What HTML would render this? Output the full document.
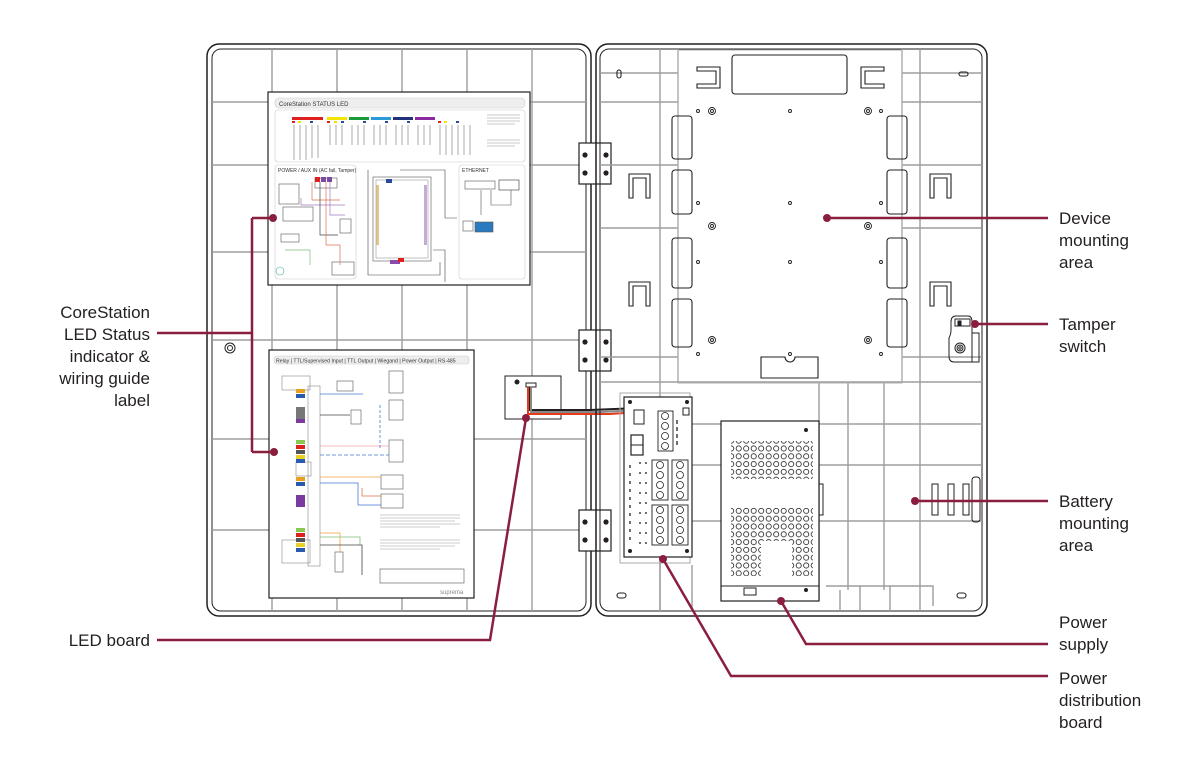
<!DOCTYPE html>
<html><head><meta charset="utf-8"><style>
html,body{margin:0;padding:0;background:#fff;}
svg{display:block}
text{font-family:"Liberation Sans",sans-serif;}
.lbl{font-size:17px;fill:#231f20;}
</style></head><body>
<svg width="1201" height="770" viewBox="0 0 1201 770" xmlns="http://www.w3.org/2000/svg">
<!-- LEFT DOOR -->
<g fill="none">
<rect x="207" y="44" width="384" height="572" rx="12" stroke="#231f20" stroke-width="1.5"/>
<rect x="212" y="49" width="374" height="562" rx="9" stroke="#231f20" stroke-width="1"/>
<g stroke="#9d9d9d" stroke-width="1.4">
<line x1="272" y1="49" x2="272" y2="611"/><line x1="337" y1="49" x2="337" y2="611"/>
<line x1="402" y1="49" x2="402" y2="611"/><line x1="467" y1="49" x2="467" y2="611"/>
<line x1="532" y1="49" x2="532" y2="611"/>
<line x1="212" y1="102" x2="586" y2="102"/><line x1="212" y1="165" x2="586" y2="165"/>
<line x1="212" y1="252" x2="586" y2="252"/><line x1="212" y1="340" x2="586" y2="340"/>
<line x1="212" y1="439" x2="586" y2="439"/><line x1="212" y1="530" x2="586" y2="530"/>
</g>
<circle cx="230" cy="348" r="5" stroke="#231f20"/><circle cx="230" cy="348" r="2.5" stroke="#231f20"/>
</g>
<!-- Label 1 -->
<rect x="268" y="92" width="262" height="193" fill="#fff" stroke="#231f20" stroke-width="1.2"/>
<rect x="275" y="98" width="250" height="10" rx="4" fill="#eee" stroke="#ccc" stroke-width=".6"/>
<text x="279" y="106" font-size="6" fill="#333">CoreStation STATUS LED</text>
<rect x="275" y="110" width="250" height="52" rx="3" fill="#fff" stroke="#ccc" stroke-width=".6"/>
<g>
<rect x="292" y="117" width="31" height="3" fill="#e02020"/><rect x="327" y="117" width="20" height="3" fill="#f2e600"/>
<rect x="349" y="117" width="20" height="3" fill="#1a9a3a"/><rect x="371" y="117" width="20" height="3" fill="#2a9ad8"/>
<rect x="393" y="117" width="20" height="3" fill="#23307a"/><rect x="415" y="117" width="20" height="3" fill="#8a2aa0"/>
<g fill="#e02020"><rect x="292" y="121" width="3" height="2"/><rect x="327" y="121" width="3" height="2"/><rect x="438" y="121" width="3" height="2"/></g>
<g fill="#f2e600"><rect x="298" y="121" width="3" height="2"/><rect x="334" y="121" width="3" height="2"/><rect x="444" y="121" width="3" height="2"/></g>
<g fill="#2a4aa0"><rect x="310" y="121" width="3" height="2"/><rect x="341" y="121" width="3" height="2"/><rect x="363" y="121" width="3" height="2"/><rect x="385" y="121" width="3" height="2"/><rect x="407" y="121" width="3" height="2"/><rect x="456" y="121" width="3" height="2"/></g>
<g stroke="#555" stroke-width=".5"><line x1="294" y1="125" x2="294" y2="160"/><line x1="300" y1="125" x2="300" y2="160"/><line x1="306" y1="125" x2="306" y2="160"/><line x1="312" y1="125" x2="312" y2="158"/><line x1="318" y1="125" x2="318" y2="158"/><line x1="330" y1="125" x2="330" y2="145"/><line x1="336" y1="125" x2="336" y2="145"/><line x1="342" y1="125" x2="342" y2="145"/><line x1="352" y1="125" x2="352" y2="145"/><line x1="358" y1="125" x2="358" y2="145"/><line x1="364" y1="125" x2="364" y2="145"/><line x1="374" y1="125" x2="374" y2="145"/><line x1="380" y1="125" x2="380" y2="145"/><line x1="386" y1="125" x2="386" y2="145"/><line x1="396" y1="125" x2="396" y2="145"/><line x1="402" y1="125" x2="402" y2="145"/><line x1="408" y1="125" x2="408" y2="145"/><line x1="418" y1="125" x2="418" y2="145"/><line x1="424" y1="125" x2="424" y2="145"/><line x1="430" y1="125" x2="430" y2="145"/><line x1="440" y1="125" x2="440" y2="155"/><line x1="446" y1="125" x2="446" y2="155"/><line x1="452" y1="125" x2="452" y2="155"/><line x1="458" y1="125" x2="458" y2="155"/><line x1="464" y1="125" x2="464" y2="155"/><line x1="470" y1="125" x2="470" y2="155"/></g>
<g stroke="#777" stroke-width=".4"><line x1="487" y1="115" x2="520" y2="115"/><line x1="487" y1="118" x2="520" y2="118"/><line x1="487" y1="121" x2="520" y2="121"/><line x1="487" y1="124" x2="515" y2="124"/><line x1="487" y1="140" x2="520" y2="140"/><line x1="487" y1="143" x2="520" y2="143"/><line x1="487" y1="146" x2="515" y2="146"/></g>
</g>
<rect x="275" y="165" width="81" height="114" rx="3" fill="#fff" stroke="#ccc" stroke-width=".6"/>
<text x="278" y="172" font-size="5" fill="#333">POWER / AUX IN (AC fail, Tamper)</text>
<rect x="459" y="165" width="66" height="114" rx="3" fill="#fff" stroke="#ccc" stroke-width=".6"/>
<text x="462" y="172" font-size="5" fill="#333">ETHERNET</text>
<g fill="none" stroke="#555" stroke-width=".6">
<rect x="279" y="184" width="20" height="20"/><rect x="283" y="207" width="30" height="14"/>
<rect x="315" y="178" width="22" height="10"/><rect x="340" y="219" width="11" height="14"/>
<rect x="332" y="262" width="22" height="13"/><rect x="281" y="234" width="18" height="8"/>
<rect x="373" y="177" width="58" height="84"/><rect x="376" y="180" width="52" height="78" stroke="#999"/>
<path d="M368 170 V275 H440 V262" stroke="#444"/><path d="M400 170 H445 V218 H457" stroke="#444"/><path d="M433 250 H445 V282" stroke="#444"/>
<rect x="465" y="181" width="30" height="8"/><rect x="499" y="180" width="20" height="10" stroke="#333"/>
<rect x="463" y="221" width="10" height="10"/><rect x="475" y="222" width="18" height="10" fill="#2a7ac0"/>
<path d="M481 190 V215 M491 190 V205 H511 V190"/>
<circle cx="280" cy="271" r="4" stroke="#4a9"/>
</g>
<g stroke-width=".7" fill="none">
<path d="M301 198 V205 H345" stroke="#a07ac0"/><path d="M312 182 V200 H340" stroke="#e07050"/><path d="M320 182 V235 H338" stroke="#444"/><path d="M326 182 V245 H340 V265" stroke="#e07050"/><path d="M330 182 V215 H345" stroke="#a07ac0"/>
<path d="M285 250 H310 V265" stroke="#7ac07a"/>
</g>
<g><rect x="315" y="177" width="5" height="5" fill="#e02020"/><rect x="321" y="177" width="5" height="5" fill="#7a4aa0"/><rect x="327" y="177" width="5" height="5" fill="#7a4aa0"/></g>
<g><rect x="376" y="185" width="3" height="60" fill="#c8a040" opacity=".6"/><rect x="424" y="185" width="3" height="60" fill="#8a5ab0" opacity=".5"/><rect x="390" y="260" width="10" height="4" fill="#8a4ab0"/><rect x="386" y="179" width="6" height="4" fill="#2a4aa0"/><rect x="398" y="258" width="6" height="4" fill="#e02020"/></g>
<!-- Label 2 -->
<rect x="269" y="350" width="205" height="248" fill="#fff" stroke="#231f20" stroke-width="1.2"/>
<rect x="274" y="356" width="195" height="8" rx="3" fill="#eee" stroke="#ccc" stroke-width=".6"/>
<text x="276" y="362.5" font-size="5.2" fill="#333">Relay | TTL/Supervised Input | TTL Output | Wiegand | Power Output | RS-485</text>
<g fill="none" stroke="#888" stroke-width=".6">
<rect x="282" y="376" width="28" height="14"/><rect x="296" y="462" width="15" height="14"/><rect x="282" y="540" width="28" height="23"/>
<rect x="308" y="386" width="12" height="180"/>
<rect x="337" y="381" width="16" height="10" stroke="#555"/><rect x="389" y="371" width="14" height="22" stroke="#555"/><rect x="389" y="400" width="14" height="20" stroke="#555"/><rect x="389" y="440" width="14" height="22" stroke="#555"/>
<rect x="351" y="410" width="10" height="14" stroke="#555"/><rect x="381" y="475" width="22" height="14" stroke="#555"/><rect x="381" y="494" width="22" height="14" stroke="#555"/>
<rect x="380" y="569" width="84" height="14" stroke="#555"/><rect x="335" y="552" width="8" height="20" stroke="#555"/>
</g>
<g stroke-width=".8" fill="none">
<path d="M320 477 H381" stroke="#f0a040"/><path d="M320 483 H358 V505 H381" stroke="#4a7ad0"/><path d="M362 488 V496 H381" stroke="#e07050"/>
<path d="M320 446 H389" stroke="#f0a0a0"/><path d="M320 455 H389" stroke="#4a7ad0" stroke-dasharray="4 2"/><path d="M380 405 V450" stroke="#4a7ad0" stroke-dasharray="3 2"/>
<path d="M320 394 H363" stroke="#4a7ad0"/><path d="M320 415 H350" stroke="#444"/><path d="M320 537 H360 V545" stroke="#7ac07a"/><path d="M320 533 H340 V552" stroke="#f0a040"/><path d="M320 545 H362 V575" stroke="#444"/>
</g>
<g><rect x="296" y="389" width="9" height="4" fill="#e8a020"/><rect x="296" y="394" width="9" height="4" fill="#2a5ab0"/>
<rect x="296" y="407" width="9" height="12" fill="#777"/><rect x="296" y="419" width="9" height="4" fill="#7a3aa0"/>
<rect x="296" y="440" width="9" height="4" fill="#8cc850"/><rect x="296" y="445" width="9" height="4" fill="#e02020"/><rect x="296" y="450" width="9" height="4" fill="#555"/><rect x="296" y="455" width="9" height="4" fill="#e8d020"/><rect x="296" y="459" width="9" height="4" fill="#2a5ab0"/>
<rect x="296" y="477" width="9" height="4" fill="#e8a020"/><rect x="296" y="482" width="9" height="4" fill="#2a5ab0"/>
<rect x="296" y="495" width="9" height="12" fill="#7a3aa0"/>
<rect x="296" y="528" width="9" height="4" fill="#8cc850"/><rect x="296" y="533" width="9" height="4" fill="#e02020"/><rect x="296" y="538" width="9" height="4" fill="#555"/><rect x="296" y="543" width="9" height="4" fill="#e8d020"/><rect x="296" y="548" width="9" height="4" fill="#2a5ab0"/></g>
<g stroke="#999" stroke-width=".5"><line x1="380" y1="515" x2="460" y2="515"/><line x1="380" y1="518" x2="460" y2="518"/><line x1="380" y1="521" x2="455" y2="521"/><line x1="380" y1="524" x2="460" y2="524"/><line x1="380" y1="527" x2="440" y2="527"/><line x1="380" y1="540" x2="460" y2="540"/><line x1="380" y1="543" x2="460" y2="543"/><line x1="380" y1="546" x2="455" y2="546"/><line x1="380" y1="549" x2="440" y2="549"/></g>
<text x="440" y="594" font-size="6" fill="#888">suprema</text>
<!-- LED board -->
<rect x="505" y="376" width="56" height="43" fill="#fff" stroke="#231f20" stroke-width="1"/>
<circle cx="517" cy="382" r="2.5" fill="#231f20"/>
<rect x="526" y="383" width="10" height="4" fill="none" stroke="#231f20"/>
<!-- wires -->
<path d="M530 387 V410 H590 L640 408 V418" stroke="#231f20" stroke-width="2" fill="none"/>
<path d="M531 387 V412 H600 L642 410 V420" stroke="#888" stroke-width="2" fill="none"/>
<path d="M528 387 V414 H610 L640 412 V425" stroke="#e83a1a" stroke-width="2" fill="none"/>
<!-- Hinges -->
<g fill="#fff" stroke="#231f20" stroke-width="1.2">
<rect x="579" y="143" width="32" height="41"/><rect x="579" y="330" width="32" height="41"/><rect x="579" y="510" width="32" height="41"/>
</g>
<g fill="#231f20"><circle cx="585" cy="155" r="2.6"/><circle cx="585" cy="173" r="2.6"/><circle cx="606" cy="155" r="2.6"/><circle cx="606" cy="173" r="2.6"/>
<circle cx="585" cy="342" r="2.6"/><circle cx="585" cy="360" r="2.6"/><circle cx="606" cy="342" r="2.6"/><circle cx="606" cy="360" r="2.6"/>
<circle cx="585" cy="522" r="2.6"/><circle cx="585" cy="540" r="2.6"/><circle cx="606" cy="522" r="2.6"/><circle cx="606" cy="540" r="2.6"/></g>
<!-- RIGHT BOX -->
<g fill="none">
<rect x="596" y="44" width="391" height="572" rx="12" stroke="#231f20" stroke-width="1.5"/>
<rect x="600" y="49" width="382" height="562" rx="9" stroke="#231f20" stroke-width="1"/>
<g stroke="#9d9d9d" stroke-width="1.4">
<line x1="660" y1="49" x2="660" y2="611"/><line x1="678" y1="49" x2="678" y2="383"/><line x1="902" y1="49" x2="902" y2="383"/><line x1="920" y1="49" x2="920" y2="611"/>
<line x1="600" y1="73" x2="678" y2="73"/><line x1="902" y1="73" x2="982" y2="73"/>
<line x1="600" y1="102" x2="678" y2="102"/><line x1="902" y1="102" x2="982" y2="102"/>
<line x1="600" y1="165" x2="678" y2="165"/><line x1="902" y1="165" x2="982" y2="165"/>
<line x1="600" y1="228" x2="678" y2="228"/><line x1="902" y1="228" x2="982" y2="228"/>
<line x1="600" y1="357" x2="678" y2="357"/><line x1="902" y1="357" x2="982" y2="357"/>
<line x1="600" y1="382" x2="982" y2="382"/><line x1="692" y1="424" x2="982" y2="424"/><line x1="692" y1="465" x2="982" y2="465"/><line x1="692" y1="521" x2="982" y2="521"/>
<line x1="848" y1="383" x2="848" y2="590"/><line x1="884" y1="383" x2="884" y2="590"/><line x1="819" y1="383" x2="819" y2="600"/>
<line x1="660" y1="557" x2="660" y2="611"/><line x1="692" y1="565" x2="692" y2="611"/>
<path d="M826 586 H933 V606 M860 586 V611 M890 586 V611 M840 590 V611"/>
</g>
<rect x="678" y="50" width="224" height="333" stroke="#b0b0b0" stroke-width="1"/>
<g stroke="#231f20" stroke-width="1.1">
<rect x="732" y="55" width="115" height="39" rx="3"/>
<path d="M697 67 H720 V88 H697 V84 H716 V71 H697 Z"/><path d="M884 67 H861 V88 H884 V84 H865 V71 H884 Z"/>
<rect x="672" y="116" width="20" height="43" rx="3"/><rect x="672" y="170" width="20" height="44" rx="3"/><rect x="672" y="238" width="20" height="50" rx="3"/><rect x="672" y="299" width="20" height="48" rx="3"/>
<rect x="887" y="116" width="20" height="43" rx="3"/><rect x="887" y="170" width="20" height="44" rx="3"/><rect x="887" y="238" width="20" height="50" rx="3"/><rect x="887" y="299" width="20" height="48" rx="3"/>
<path d="M761 357 H785 A4 4 0 0 0 795 357 H818 V378 H761 Z"/>
<path d="M629 174 H650 V198 H646 V178 H633 V198 H629 Z"/><path d="M629 282 H650 V306 H646 V286 H633 V306 H629 Z"/>
<path d="M930 174 H951 V198 H947 V178 H934 V198 H930 Z"/><path d="M930 282 H951 V306 H947 V286 H934 V306 H930 Z"/>
<rect x="617" y="70" width="4" height="8" rx="2"/><rect x="959" y="72" width="9" height="4" rx="2"/>
<rect x="617" y="593" width="9" height="5" rx="2.5"/><rect x="957" y="593" width="9" height="5" rx="2.5"/>
</g>
<g stroke="#231f20" stroke-width=".9">
<circle cx="712" cy="111" r="3.5"/><circle cx="712" cy="111" r="1.5"/><circle cx="868" cy="111" r="3.5"/><circle cx="868" cy="111" r="1.5"/>
<circle cx="712" cy="226" r="3.5"/><circle cx="712" cy="226" r="1.5"/><circle cx="868" cy="226" r="3.5"/><circle cx="868" cy="226" r="1.5"/>
<circle cx="712" cy="340" r="3.5"/><circle cx="712" cy="340" r="1.5"/><circle cx="868" cy="340" r="3.5"/><circle cx="868" cy="340" r="1.5"/>
<circle cx="698" cy="111" r="1.5"/><circle cx="790" cy="111" r="1.5"/><circle cx="881" cy="111" r="1.5"/>
<circle cx="698" cy="203" r="1.5"/><circle cx="790" cy="203" r="1.5"/><circle cx="881" cy="203" r="1.5"/>
<circle cx="698" cy="262" r="1.5"/><circle cx="790" cy="262" r="1.5"/><circle cx="881" cy="262" r="1.5"/>
<circle cx="698" cy="354" r="1.5"/><circle cx="790" cy="354" r="1.5"/><circle cx="881" cy="354" r="1.5"/>
</g>
<!-- tamper -->
<g stroke="#231f20" stroke-width="1">
<path d="M951 322 Q951 316 956 316 H968 Q972 316 972 322 V362 H954 Q949 362 949 356 V338 Q951 334 951 330 Z"/>
<rect x="955" y="319" width="15" height="7" fill="#fff"/><rect x="958" y="321" width="3" height="4" fill="#231f20"/>
<circle cx="960" cy="348" r="5"/><circle cx="960" cy="348" r="3"/><circle cx="960" cy="348" r="1.2"/>
<path d="M972 333 H979 V362 H972"/>
</g>
<g stroke="#231f20" stroke-width="1"><rect x="932" y="484" width="6" height="31"/><rect x="948" y="484" width="6" height="31"/><rect x="963" y="484" width="6" height="31"/><rect x="972" y="477" width="8" height="45" rx="3"/></g>
</g>
<!-- PDB -->
<rect x="620" y="393" width="70" height="170" fill="none" stroke="#aaa"/>
<rect x="624" y="397" width="68" height="160" fill="#fff" stroke="#231f20" stroke-width="1.2"/>
<g fill="#231f20"><circle cx="630" cy="402" r="2"/><circle cx="687" cy="402" r="2"/><circle cx="630" cy="551" r="2"/><circle cx="687" cy="551" r="2"/></g>
<rect x="634" y="410" width="10" height="14" fill="#fff" stroke="#231f20"/><rect x="683" y="408" width="6" height="7" fill="none" stroke="#231f20"/>
<rect x="631" y="435" width="12" height="20" fill="none" stroke="#231f20" stroke-width="1.2"/><line x1="631" y1="445" x2="643" y2="445" stroke="#231f20"/>
<g fill="none" stroke="#231f20" stroke-width=".9">
<rect x="658" y="411" width="15" height="40"/><rect x="652" y="460" width="16" height="40"/><rect x="672" y="460" width="16" height="40"/><rect x="652" y="505" width="16" height="40"/><rect x="672" y="505" width="16" height="40"/>
</g>
<g fill="none" stroke="#231f20" stroke-width=".8">
<circle cx="665" cy="416" r="3.5"/><circle cx="665" cy="426" r="3.5"/><circle cx="665" cy="436" r="3.5"/><circle cx="665" cy="446" r="3.5"/>
<circle cx="660" cy="465" r="3.5"/><circle cx="660" cy="475" r="3.5"/><circle cx="660" cy="485" r="3.5"/><circle cx="660" cy="495" r="3.5"/>
<circle cx="680" cy="465" r="3.5"/><circle cx="680" cy="475" r="3.5"/><circle cx="680" cy="485" r="3.5"/><circle cx="680" cy="495" r="3.5"/>
<circle cx="660" cy="510" r="3.5"/><circle cx="660" cy="520" r="3.5"/><circle cx="660" cy="530" r="3.5"/><circle cx="660" cy="540" r="3.5"/>
<circle cx="680" cy="510" r="3.5"/><circle cx="680" cy="520" r="3.5"/><circle cx="680" cy="530" r="3.5"/><circle cx="680" cy="540" r="3.5"/>
</g>
<g stroke="#231f20" stroke-width="1.3"><line x1="677" y1="420" x2="677" y2="445" stroke-dasharray="4 3"/><line x1="630" y1="465" x2="630" y2="545" stroke-dasharray="3 5"/><line x1="640" y1="462" x2="640" y2="545" stroke-dasharray="2 8"/><line x1="646" y1="462" x2="646" y2="545" stroke-dasharray="2 8"/></g>
<!-- PSU -->
<rect x="721" y="421" width="98" height="180" fill="#fff" stroke="#231f20" stroke-width="1.2"/>
<line x1="721" y1="586" x2="819" y2="586" stroke="#231f20"/>
<rect x="744" y="588" width="12" height="7" fill="none" stroke="#231f20"/>
<path d="M819 484 H823 V515 H819" fill="none" stroke="#231f20"/>
<g fill="#231f20"><circle cx="806" cy="430" r="2"/><circle cx="806" cy="590" r="2"/></g>
<defs><pattern id="holes" width="7.5" height="7.8" patternUnits="userSpaceOnUse"><circle cx="3.7" cy="3.9" r="2.6" fill="none" stroke="#231f20" stroke-width=".8"/></pattern></defs>
<rect x="731" y="441" width="82" height="38" fill="url(#holes)"/>
<rect x="731" y="508" width="82" height="33" fill="url(#holes)"/>
<rect x="731" y="541" width="30" height="35" fill="url(#holes)"/><rect x="792" y="541" width="21" height="35" fill="url(#holes)"/>
<!-- LEADERS -->
<g stroke="#8b1e3f" stroke-width="2.5" fill="none">
<path d="M157 333 H252 M252 218 V452 M252 218 H273 M252 452 H274"/>
<path d="M157 640 H490 L526 418"/>
<path d="M827 218 H1048"/><path d="M975 324 H1048"/><path d="M915 501 H1048"/>
<path d="M781 601 L806 644 H1048"/><path d="M663 559 L731 676 H1048"/>
</g>
<g fill="#8b1e3f"><circle cx="273" cy="218" r="4"/><circle cx="274" cy="452" r="4"/><circle cx="526" cy="418" r="4"/><circle cx="827" cy="218" r="4"/><circle cx="975" cy="324" r="4"/><circle cx="915" cy="501" r="4"/><circle cx="781" cy="601" r="4"/><circle cx="663" cy="559" r="4"/></g>
<!-- TEXT -->
<g class="lbl" text-anchor="end">
<text x="150" y="318">CoreStation</text><text x="150" y="340">LED Status</text><text x="150" y="362">indicator &amp;</text><text x="150" y="384">wiring guide</text><text x="150" y="406">label</text>
<text x="150" y="646">LED board</text>
</g>
<g class="lbl">
<text x="1059" y="224">Device</text><text x="1059" y="246">mounting</text><text x="1059" y="268">area</text>
<text x="1059" y="330">Tamper</text><text x="1059" y="352">switch</text>
<text x="1059" y="507">Battery</text><text x="1059" y="529">mounting</text><text x="1059" y="551">area</text>
<text x="1059" y="628">Power</text><text x="1059" y="650">supply</text>
<text x="1059" y="684">Power</text><text x="1059" y="706">distribution</text><text x="1059" y="728">board</text>
</g>
</svg>
</body></html>
